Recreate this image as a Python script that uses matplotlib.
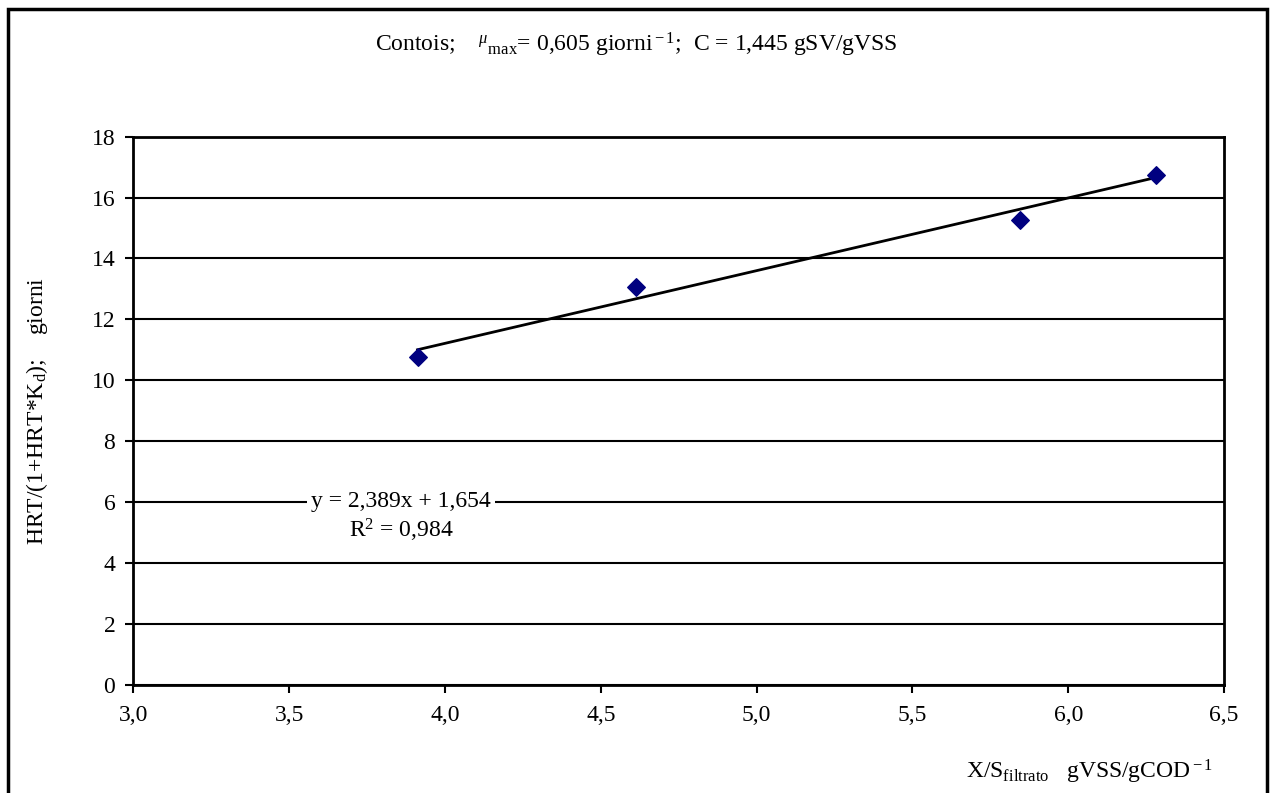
import matplotlib
matplotlib.use("Agg")
import matplotlib.pyplot as plt
from matplotlib.patches import Rectangle
import numpy as np

# data
x_ratio = [3.912, 4.612, 5.844, 6.282]      # X/S filtrato
y_hrt = [10.76, 13.07, 15.27, 16.73]        # HRT/(1+HRT*Kd)
slope = 2.389
intercept = 1.654
r2 = 0.984
x_ticks = [3.0, 3.5, 4.0, 4.5, 5.0, 5.5, 6.0, 6.5]
y_ticks = [0, 2, 4, 6, 8, 10, 12, 14, 16, 18]

plt.rcParams['font.family'] = ['Liberation Serif', 'DejaVu Serif']
plt.rcParams['mathtext.fontset'] = 'custom'
plt.rcParams['mathtext.rm'] = 'Liberation Serif'
plt.rcParams['mathtext.it'] = 'Liberation Serif:italic'

fs = 17

fig = plt.figure(figsize=(12.72, 7.93), dpi=100)
ax = fig.add_axes([0.1048, 0.1368, 0.9623 - 0.1048, 0.8276 - 0.1368])

# outer chart border
W, H = 1272, 793
fig.patches.append(Rectangle((8 / W, -0.05), (1267 - 8) / W, (H - 9) / H + 0.05,
                             transform=fig.transFigure, fill=False,
                             edgecolor='black', linewidth=2.5, zorder=0))

ax.set_xlim(3.0, 6.5)
ax.set_ylim(0, 18)
ax.set_xticks(x_ticks)
ax.set_yticks(y_ticks)
ax.set_xticklabels([f"{v:.1f}".replace('.', ',') for v in x_ticks], fontsize=fs)
ax.set_yticklabels([str(v) for v in y_ticks], fontsize=fs)
ax.tick_params(direction='out', length=6, width=1.5, color='black', pad=7)
ax.tick_params(axis='x', pad=9)

ax.grid(axis='y', color='black', linewidth=1.5)
ax.set_axisbelow(True)
for s in ax.spines.values():
    s.set_linewidth(2)
    s.set_color('black')

# trendline
xl = np.array([min(x_ratio), max(x_ratio)])
ax.plot(xl, slope * xl + intercept, color='black', linewidth=2, zorder=3)

ax.scatter(x_ratio, y_hrt, marker='D', s=80, color='#000080', zorder=4)

ax.text(3.86, 6.0, f"y = {slope:.3f}x + {intercept:.3f}".replace('.', ','),
        fontsize=fs, ha='center', va='center',
        bbox=dict(facecolor='white', edgecolor='none', pad=3), zorder=5)
ax.text(3.86, 5.05, "R$^2$ = " + f"{r2:.3f}".replace('.', ','),
        fontsize=fs, ha='center', va='center', zorder=5)

fig.text(0.5, 1 - 45 / H,
         r"Contois;    $^{\mu}$$_{\rm max}$= 0,605 giorni$^{\rm -1}$;  C = 1,445 gSV/gVSS",
         fontsize=fs, ha='center', va='center')

ax.set_ylabel(r"HRT/(1+HRT*K$_{\rm d}$);    giorni", fontsize=fs)
ax.yaxis.set_label_coords(-0.076, 0.5)

fig.text(1090 / W, 1 - 772 / H, r"X/S$_{\rm filtrato}$   gVSS/gCOD$^{\rm -1}$",
         fontsize=fs, ha='center', va='center')

fig.savefig("out.png", dpi=100)
